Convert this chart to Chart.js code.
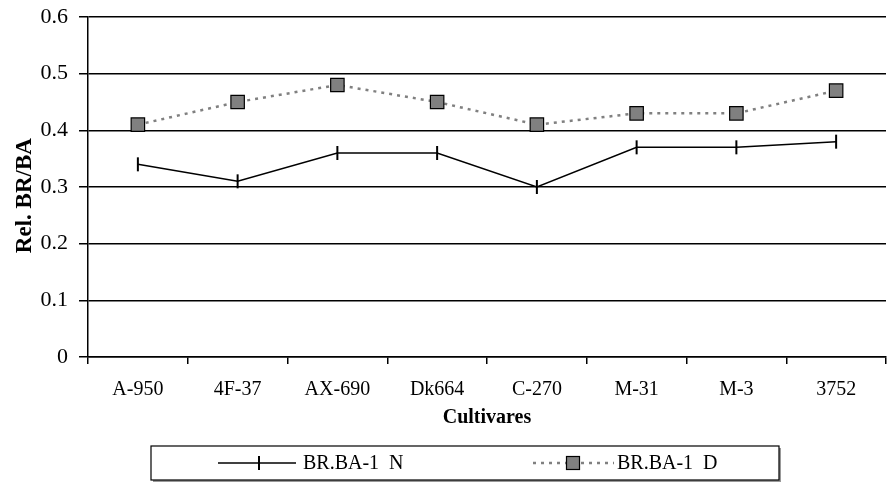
<!DOCTYPE html>
<html>
<head>
<meta charset="utf-8">
<script src="https://cdn.jsdelivr.net/npm/chart.js@4.4.1/dist/chart.umd.min.js"></script>
<style>
    html, body { margin: 0; padding: 0; background: #fff; }
    #wrap { width: 887px; height: 482px; }
</style>
</head>
<body>
<div id="wrap"><canvas id="chart" width="887" height="482"></canvas></div>
<script>
// Data
const cultivares = ['A-950', '4F-37', 'AX-690', 'Dk664', 'C-270', 'M-31', 'M-3', '3752'];
const seriesN = [0.34, 0.31, 0.36, 0.36, 0.30, 0.37, 0.37, 0.38];
const seriesD = [0.41, 0.45, 0.48, 0.45, 0.41, 0.43, 0.43, 0.47];
const labelN = 'BR.BA-1  N';
const labelD = 'BR.BA-1  D';

const serif = '"Liberation Serif", "Times New Roman", serif';

// Boxed legend under the chart, drawn by hand like the original
const boxedLegend = {
    id: 'boxedLegend',
    afterDraw(chart) {
        const ctx = chart.ctx;
        const box = { x: 151, y: 446, w: 628, h: 34 };
        const cy = box.y + box.h / 2;
        const dsN = chart.data.datasets[0];
        const dsD = chart.data.datasets[1];
        ctx.save();

        // frame with a light shadow
        ctx.fillStyle = '#999';
        ctx.fillRect(box.x + 2, box.y + 2, box.w, box.h);
        ctx.fillStyle = '#fff';
        ctx.fillRect(box.x, box.y, box.w, box.h);
        ctx.strokeStyle = '#000';
        ctx.lineWidth = 1.2;
        ctx.strokeRect(box.x, box.y, box.w, box.h);

        // series N sample
        ctx.strokeStyle = dsN.borderColor;
        ctx.lineWidth = dsN.borderWidth;
        ctx.beginPath();
        ctx.moveTo(218, cy);
        ctx.lineTo(296, cy);
        ctx.stroke();
        ctx.lineWidth = dsN.pointBorderWidth;
        ctx.beginPath();
        ctx.moveTo(259, cy - dsN.pointRadius);
        ctx.lineTo(259, cy + dsN.pointRadius);
        ctx.stroke();

        // series D sample
        ctx.strokeStyle = dsD.borderColor;
        ctx.lineWidth = dsD.borderWidth;
        ctx.setLineDash(dsD.borderDash);
        ctx.beginPath();
        ctx.moveTo(533, cy);
        ctx.lineTo(614, cy);
        ctx.stroke();
        ctx.setLineDash([]);
        const s = 13;
        ctx.fillStyle = dsD.pointBackgroundColor;
        ctx.fillRect(573 - s / 2, cy - s / 2, s, s);
        ctx.strokeStyle = dsD.pointBorderColor;
        ctx.lineWidth = dsD.pointBorderWidth;
        ctx.strokeRect(573 - s / 2, cy - s / 2, s, s);

        // labels
        ctx.fillStyle = '#000';
        ctx.font = '20px ' + serif;
        ctx.textBaseline = 'middle';
        ctx.textAlign = 'left';
        ctx.fillText(dsN.label, 303, cy + 1);
        ctx.fillText(dsD.label, 617, cy + 1);
        ctx.restore();
    }
};

const ctx = document.getElementById('chart').getContext('2d');
const chart = new Chart(ctx, {
    type: 'line',
    data: {
        labels: cultivares,
        datasets: [{
            label: labelN,
            data: seriesN,
            borderColor: '#000',
            borderWidth: 1.5,
            pointStyle: 'line',
            pointRotation: 90,
            pointRadius: 7,
            pointHoverRadius: 7,
            pointBorderColor: '#000',
            pointBorderWidth: 2,
            tension: 0
        }, {
            label: labelD,
            data: seriesD,
            borderColor: '#808080',
            borderWidth: 2.5,
            borderDash: [3, 5],
            pointStyle: 'rect',
            pointRadius: 9.5,
            pointHoverRadius: 9.5,
            pointBackgroundColor: '#808080',
            pointBorderColor: '#000',
            pointBorderWidth: 1.2,
            tension: 0
        }]
    },
    options: {
        responsive: false,
        animation: false,
        layout: {
            autoPadding: false,
            padding: { top: 17, right: 1, bottom: 48, left: 0 }
        },
        plugins: {
            legend: { display: false },
            tooltip: { enabled: false }
        },
        scales: {
            x: {
                offset: true,
                grid: {
                    offset: true,
                    drawOnChartArea: false,
                    drawTicks: true,
                    tickLength: 7,
                    color: '#000',
                    lineWidth: 1.5
                },
                border: { display: true, color: '#000', width: 1.5 },
                ticks: {
                    color: '#000',
                    font: { family: serif, size: 20 },
                    padding: 14,
                    maxRotation: 0
                },
                title: {
                    display: true,
                    text: 'Cultivares',
                    color: '#000',
                    font: { family: serif, size: 20, weight: 'bold' }
                },
                afterFit(scale) {
                    scale.height = 77;
                    scale.paddingLeft = 0;
                    scale.paddingRight = 0;
                }
            },
            y: {
                min: 0,
                max: 0.6,
                ticks: {
                    stepSize: 0.1,
                    color: '#000',
                    font: { family: serif, size: 22 },
                    padding: 11
                },
                grid: {
                    color: '#000',
                    lineWidth: 1.5,
                    tickLength: 9
                },
                border: { display: true, color: '#000', width: 1.5 },
                title: {
                    display: true,
                    text: 'Rel. BR/BA   ',
                    color: '#000',
                    font: { family: serif, size: 23, weight: 'bold', lineHeight: 1.8 }
                },
                afterFit(scale) {
                    scale.width = 88;
                    scale.paddingTop = 0;
                    scale.paddingBottom = 0;
                }
            }
        }
    },
    plugins: [boxedLegend]
});
</script>
</body>
</html>
